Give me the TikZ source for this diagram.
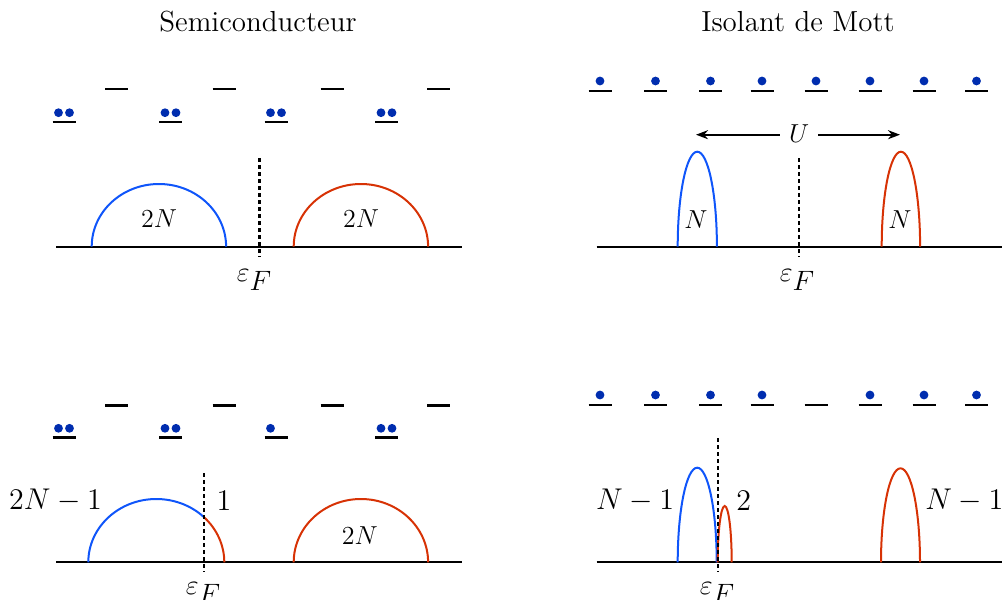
\documentclass[tikz,border=0pt]{standalone}
\usepackage{fix-cm}
\usetikzlibrary{arrows.meta}
\definecolor{bluec}{RGB}{15,85,250}
\definecolor{redc}{RGB}{215,50,5}
\definecolor{dotblue}{RGB}{0,45,175}
\begin{document}
\begin{tikzpicture}[x=0.5pt,y=-0.5pt,
  axis/.style={line width=1.1pt},
  lev/.style={line width=1.2pt},
  dos/.style={line width=1pt},
  fermi/.style={line width=1.2pt, dash pattern=on 2pt off 1.5pt},
  elec/.style={fill=dotblue},
  lab/.style={font=\fontsize{13}{15}\selectfont, inner sep=0pt},
  biglab/.style={font=\fontsize{15}{18}\selectfont, inner sep=0pt},
  eflab/.style={font=\fontsize{14}{16}\selectfont, inner sep=0pt, anchor=base},
  titlelab/.style={font=\fontsize{14.5}{17}\selectfont, inner sep=0pt}]
\useasboundingbox (0,0) rectangle (1005,599);

% titles
\node[titlelab] (t1) at (258,22) {Semiconducteur};
\node[titlelab] (t2) at (798,22) {Isolant de Mott};

% ---------- top left ----------
\foreach \c in {116.5,224,332,438.5}
  \draw[lev] ({\c-11.5},89.3) -- ({\c+11.5},89.3);
\foreach \c in {64,170.5,276,386.5}{
  \draw[lev] ({\c-11.5},121.7) -- ({\c+11.5},121.7);
  \fill[elec] ({\c-5.5},112.7) circle[radius=4.4];
  \fill[elec] ({\c+5.5},112.7) circle[radius=4.4];
}
\coordinate (a1L) at (56,246.7);
\coordinate (a1R) at (462,246.7);
\draw[axis] (a1L) -- (a1R);
\coordinate (b1s) at (91.7,246.7);
\coordinate (r1s) at (293.7,246.7);
\draw[dos,bluec] (b1s) arc[start angle=180,end angle=360,x radius=67.2,y radius=62.7];
\draw[dos,redc] (r1s) arc[start angle=180,end angle=360,x radius=67.2,y radius=62.7];
\coordinate (f1t) at (259.3,158);
\coordinate (f1b) at (259.3,257);
\draw[fermi] (f1t) -- (f1b);
\node[lab] (n1a) at (159,219) {$2N$};
\node[lab] (n1b) at (361,219) {$2N$};
\node[eflab] (e1) at (254.5,281) {$\varepsilon_{\textstyle F}$};

% ---------- top right ----------
\foreach \c in {600,655.5,710.5,762,816,870,924,976.5}{
  \draw[lev] ({\c-11.5},91) -- ({\c+11.5},91);
  \fill[elec] (\c,81) circle[radius=4.4];
}
\coordinate (a2L) at (596.7,246.7);
\coordinate (a2R) at (1002,246.7);
\draw[axis] (a2L) -- (a2R);
\coordinate (b2s) at (677.7,246.7);
\coordinate (r2s) at (881.7,246.7);
\draw[dos,bluec] (b2s) arc[start angle=180,end angle=360,x radius=19.6,y radius=95];
\draw[dos,redc] (r2s) arc[start angle=180,end angle=360,x radius=19.2,y radius=95];
\coordinate (f2t) at (798.7,158);
\coordinate (f2b) at (798.7,257);
\draw[fermi] (f2t) -- (f2b);
\coordinate (uL) at (696,134.7);
\coordinate (uR) at (900,134.7);
\draw[{Stealth[length=6pt,width=4.5pt]}-{Stealth[length=6pt,width=4.5pt]},line width=1pt] (uL) -- (uR);
\node[lab,fill=white,inner xsep=4.5pt,inner ysep=1pt] (u) at (799,134) {$U$};
\node[lab] (n2a) at (695.8,220) {$N$};
\node[lab] (n2b) at (900,220) {$N$};
\node[eflab] (e2) at (797.5,281) {$\varepsilon_{\textstyle F}$};

% ---------- bottom left ----------
\foreach \c in {116.5,224,332,438.5}
  \draw[lev] ({\c-11.5},405.3) -- ({\c+11.5},405.3);
\foreach \c in {64,170.5,276,386.5}
  \draw[lev] ({\c-11.5},437.3) -- ({\c+11.5},437.3);
\foreach \c in {64,170.5,386.5}{
  \fill[elec] ({\c-5.5},428.3) circle[radius=4.4];
  \fill[elec] ({\c+5.5},428.3) circle[radius=4.4];
}
\fill[elec] (270.5,428.3) circle[radius=4.4];
\coordinate (a3L) at (56,562.3);
\coordinate (a3R) at (462,562.3);
\draw[axis] (a3L) -- (a3R);
\coordinate (b3s) at (88.3,562.3);
\draw[dos,bluec] (b3s) arc[start angle=180,end angle=314.2,x radius=68,y radius=63.3] coordinate (b3m);
\draw[dos,redc] (b3m) arc[start angle=314.2,end angle=360,x radius=68,y radius=63.3];
\coordinate (r3s) at (293.7,562.3);
\draw[dos,redc] (r3s) arc[start angle=180,end angle=360,x radius=67.2,y radius=63.3];
\coordinate (f3t) at (203.7,473.3);
\coordinate (f3b) at (203.7,571.7);
\draw[fermi] (f3t) -- (f3b);
\node[biglab] (n3a) at (55.5,500.5) {$2N-1$};
\node[biglab] (n3b) at (224,500.5) {$1$};
\node[lab] (n3c) at (359.7,536) {$2N$};
\node[eflab] (e3) at (203.5,594) {$\varepsilon_{\textstyle F}$};

% ---------- bottom right ----------
\foreach \c in {600,655.5,710.5,762,816,870,924,976.5}
  \draw[lev] ({\c-11.5},405) -- ({\c+11.5},405);
\foreach \c in {600,655.5,710.5,762,870,924,976.5}
  \fill[elec] (\c,395) circle[radius=4.4];
\coordinate (a4L) at (596.7,562.3);
\coordinate (a4R) at (1002,562.3);
\draw[axis] (a4L) -- (a4R);
\coordinate (b4s) at (677.7,562.3);
\coordinate (s4s) at (717.7,562.3);
\coordinate (r4s) at (881,562.3);
\draw[dos,bluec] (b4s) arc[start angle=180,end angle=360,x radius=19.5,y radius=94.6];
\draw[dos,redc] (s4s) arc[start angle=180,end angle=360,x radius=7,y radius=56.3];
\draw[dos,redc] (r4s) arc[start angle=180,end angle=360,x radius=19.5,y radius=94];
\coordinate (f4t) at (717.7,438.3);
\coordinate (f4b) at (717.7,571.7);
\draw[fermi] (f4t) -- (f4b);
\node[biglab] (n4a) at (635,500.5) {$N-1$};
\node[biglab] (n4b) at (743.7,500.5) {$2$};
\node[biglab] (n4c) at (964.3,500.5) {$N-1$};
\node[eflab] (e4) at (717.5,594) {$\varepsilon_{\textstyle F}$};
\end{tikzpicture}
\end{document}
